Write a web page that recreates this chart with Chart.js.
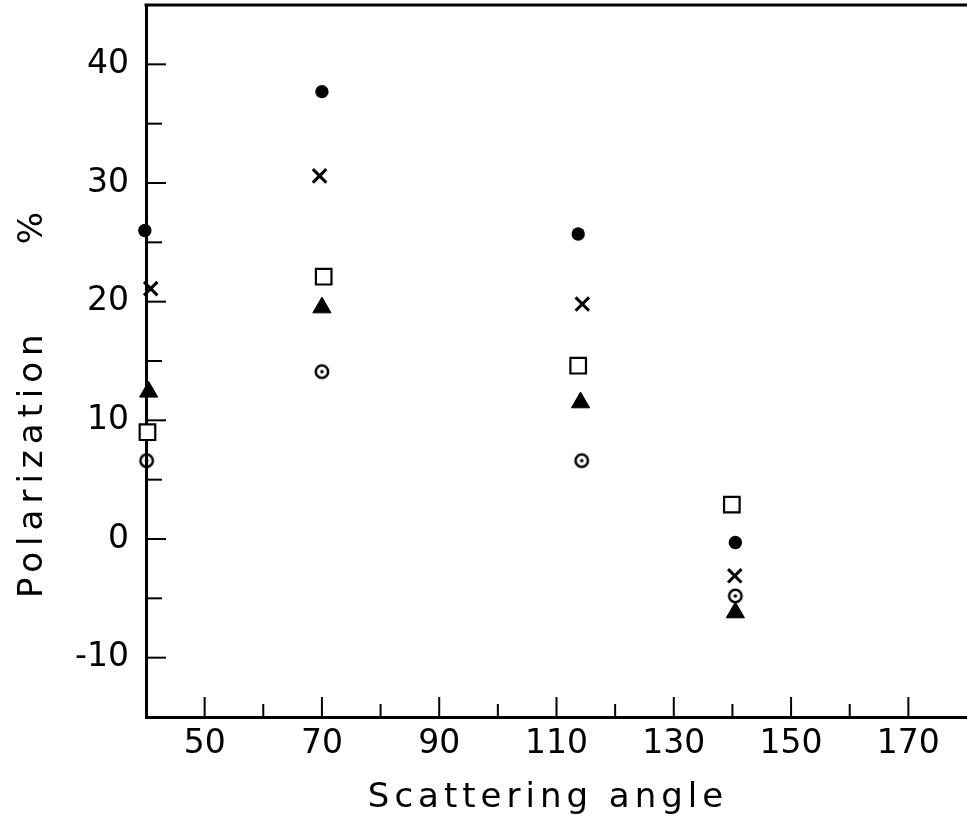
<!DOCTYPE html>
<html>
<head>
<meta charset="utf-8">
<script src="https://cdn.jsdelivr.net/npm/chart.js@4"></script>
<style>
  body { margin: 0; background: #fff; }
  #wrap { width: 967px; height: 824px; }
</style>
</head>
<body>
<div id="wrap"><canvas id="polChart"></canvas></div>
<script>
// scattering angle (deg) and polarization (%), one pair per marker type
const filledX = [39.8, 70.0, 113.7, 140.5]
const filledY = [26.0, 37.7, 25.7, -0.3]
const crossX = [40.8, 69.6, 114.4, 140.4]
const crossY = [21.1, 30.6, 19.8, -3.1]
const squareX = [40.25, 70.3, 113.7, 139.9]
const squareY = [9.0, 22.1, 14.6, 2.9]
const triX = [40.45, 70.0, 114.1, 140.5]
const triY = [12.4, 19.5, 11.5, -6.2]
const dotX = [40.1, 70.0, 114.3, 140.5]
const dotY = [6.6, 14.1, 6.6, -4.8]

const xLabels = [50, 70, 90, 110, 130, 150, 170]
const yLabels = [-10, 0, 10, 20, 30, 40]

const xTitle = 'Scattering angle'
const yTitle = 'Polarization     %'

function pts(xs, ys) {
    return xs.map((x, i) => ({ x: x, y: ys[i] }))
}

// open circle with a dot in the middle
const dotMark = document.createElement('canvas')
dotMark.width = 20
dotMark.height = 20
const dc = dotMark.getContext('2d')
dc.strokeStyle = '#000'
dc.lineWidth = 2.5
dc.beginPath()
dc.arc(10, 10, 6.2, 0, Math.PI * 2)
dc.stroke()
dc.fillStyle = '#000'
dc.beginPath()
dc.arc(10, 10, 1.8, 0, Math.PI * 2)
dc.fill()

const FONT = "'DejaVu Sans', sans-serif"

// no extra room for the (empty) end labels
function noPad(s) {
    s.paddingTop = 0
    s.paddingBottom = 0
    s.paddingLeft = 0
    s.paddingRight = 0
}

// ticks point inwards, a top frame line and the two axis titles
const innerTicks = {
    id: 'innerTicks',
    afterDatasetsDraw(chart) {
        const ctx = chart.ctx
        const a = chart.chartArea
        const xs = chart.scales.x
        const ys = chart.scales.y
        ctx.save()
        ctx.strokeStyle = '#000'
        ctx.lineWidth = 2
        xs.ticks.forEach(t => {
            if (t.value <= xs.min || t.value >= xs.max) return
            const px = xs.getPixelForValue(t.value)
            const len = xLabels.includes(t.value) ? 20 : 13
            ctx.beginPath()
            ctx.moveTo(px, a.bottom)
            ctx.lineTo(px, a.bottom - len)
            ctx.stroke()
        })
        ys.ticks.forEach(t => {
            if (t.value <= ys.min || t.value >= ys.max) return
            const py = ys.getPixelForValue(t.value)
            const len = yLabels.includes(t.value) ? 20 : 16
            ctx.beginPath()
            ctx.moveTo(a.left, py)
            ctx.lineTo(a.left + len, py)
            ctx.stroke()
        })
        ctx.lineWidth = 3
        ctx.beginPath()
        ctx.moveTo(a.left - 1.5, a.top)
        ctx.lineTo(a.right, a.top)
        ctx.stroke()

        ctx.fillStyle = '#000'
        ctx.font = '34px ' + FONT
        ctx.letterSpacing = '5px'
        ctx.textAlign = 'center'
        ctx.textBaseline = 'alphabetic'
        ctx.fillText(xTitle, 548, 807)
        ctx.letterSpacing = '6px'
        ctx.translate(42, 402)
        ctx.rotate(-Math.PI / 2)
        ctx.fillText(yTitle, 0, 0)
        ctx.restore()
    }
}

const polCtx = document.getElementById('polChart').getContext('2d')
const polChart = new Chart(polCtx, {
    type: 'scatter',
    data: {
        datasets: [
            {
                label: 'filled circle',
                data: pts(filledX, filledY),
                pointStyle: 'circle',
                pointRadius: 6.7,
                backgroundColor: '#000',
                borderColor: '#000',
                borderWidth: 0
            },
            {
                label: 'cross',
                data: pts(crossX, crossY),
                pointStyle: 'crossRot',
                pointRadius: 9.5,
                borderColor: '#000',
                borderWidth: 3
            },
            {
                label: 'square',
                data: pts(squareX, squareY),
                pointStyle: 'rect',
                pointRadius: 11,
                backgroundColor: '#fff',
                borderColor: '#000',
                borderWidth: 2.2
            },
            {
                label: 'triangle',
                data: pts(triX, triY),
                pointStyle: 'triangle',
                pointRadius: 10.5,
                backgroundColor: '#000',
                borderColor: '#000',
                borderWidth: 1
            },
            {
                label: 'dotted circle',
                data: pts(dotX, dotY),
                pointStyle: dotMark,
                pointRadius: 10,
                backgroundColor: '#fff',
                borderColor: '#000'
            }
        ]
    },
    options: {
        responsive: true,
        maintainAspectRatio: false,
        animation: false,
        layout: {
            autoPadding: false,
            padding: { top: 5, left: 0, right: 0, bottom: 0 }
        },
        plugins: {
            legend: { display: false },
            tooltip: { enabled: false }
        },
        elements: {
            point: { hoverRadius: 0 }
        },
        datasets: {
            scatter: { clip: false }
        },
        scales: {
            x: {
                type: 'linear',
                min: 40,
                max: 180,
                afterFit: s => { s.height = 107; noPad(s) },
                border: { display: true, color: '#000', width: 3 },
                grid: { display: true, drawOnChartArea: false, drawTicks: false, color: 'rgba(0,0,0,0)' },
                ticks: {
                    stepSize: 10,
                    padding: 8,
                    color: '#000',
                    autoSkip: false,
                    maxRotation: 0,
                    font: { family: FONT, size: 33 },
                    callback: v => xLabels.includes(v) ? String(v) : ''
                }
            },
            y: {
                type: 'linear',
                min: -15,
                max: 45,
                afterFit: s => { s.width = 146; noPad(s) },
                border: { display: true, color: '#000', width: 3 },
                grid: { display: true, drawOnChartArea: false, drawTicks: false, color: 'rgba(0,0,0,0)' },
                ticks: {
                    stepSize: 5,
                    padding: 17,
                    color: '#000',
                    autoSkip: false,
                    font: { family: FONT, size: 33 },
                    callback: v => yLabels.includes(v) ? String(v) : ''
                }
            }
        }
    },
    plugins: [innerTicks]
})
</script>
</body>
</html>
